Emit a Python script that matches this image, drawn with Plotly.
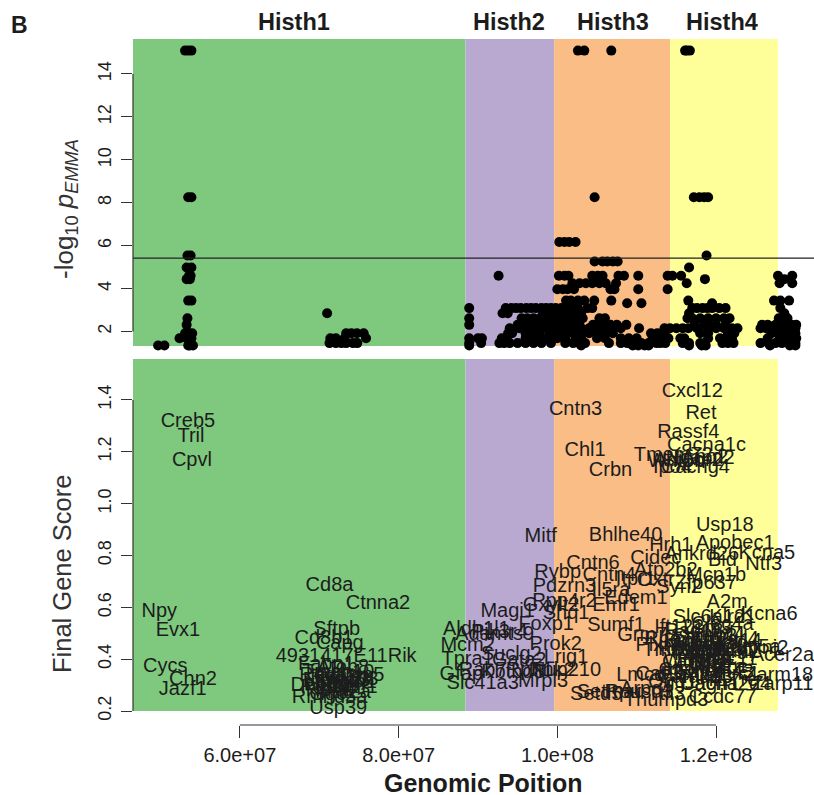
import plotly.graph_objects as go

W, H = 814, 795
FONT = "Liberation Sans"
INK = "#1c1c1c"

REGION_NAMES = ["Histh1", "Histh2", "Histh3", "Histh4"]
REGION_EDGES_MB = [46.54, 88.43, 99.6, 114.2, 127.8]
REGION_COLORS = ["#7FC97F", "#B9A9D1", "#F9BD85", "#FFFF99"]
REGION_LABEL_MB = [66.85, 93.9, 107.0, 120.8]

X_TICKS_MB = [60, 80, 100, 120]
X_TICK_LABELS = ["6.0e+07", "8.0e+07", "1.0e+08", "1.2e+08"]
X_RANGE_MB = [46.54, 132.34]
TOP_TICKS = [2, 4, 6, 8, 10, 12, 14]
TOP_RANGE = [1.325, 15.63]
BOTTOM_TICKS = [0.2, 0.4, 0.6, 0.8, 1.0, 1.2, 1.4]
BOTTOM_RANGE = [0.2, 1.558]
THRESHOLD = 5.42

ROW_VALUES = [15.09, 8.26, 6.17, 5.54, 5.26, 4.98, 4.6, 4.44, 4.25, 3.97, 3.44, 3.32, 3.09,
              2.85, 2.62, 2.31, 2.15, 1.92, 1.69, 1.46, 1.35]
ROW_MB = [
    [53.1, 53.5, 53.9, 102.6, 103.4, 106.8, 116.1, 116.3, 116.7],
    [53.5, 53.9, 104.7, 117.2, 117.9, 118.5, 119.0],
    [100.25, 100.9, 101.5, 102.3],
    [53.4, 53.8, 118.8],
    [104.7, 105.7, 106.3, 107.0, 107.6],
    [53.3, 53.9, 116.6],
    [53.6, 53.8, 92.6, 100.2, 100.9, 101.4, 104.4, 105.1, 105.7, 107.7, 108.4, 110.2, 113.9, 114.5, 115.6, 127.8, 129.6],
    [53.3, 53.7, 118.6, 128.6],
    [101.9, 102.8, 103.6, 104.4, 105.3, 106.1, 107.4, 116.3, 128.0, 129.6],
    [100.0, 100.7, 101.3, 102.1, 106.7, 107.2, 110.2, 113.9],
    [53.5, 53.9, 101.1, 101.7, 102.6, 103.4, 104.65, 106.8, 116.5, 127.3, 128.1, 129.2],
    [108.8, 110.6, 119.5],
    [88.9, 93.5, 94.2, 94.8, 95.4, 96.1, 96.7, 97.3, 98.0, 98.6, 99.2, 99.8, 100.5, 101.1, 101.9, 102.6,
     103.8, 104.4, 117.0, 117.6, 118.3, 118.9, 119.5, 120.4, 121.2, 128.1],
    [71.0, 93.1, 93.75, 98.2, 98.8, 99.5, 100.2, 100.9, 101.6, 102.4, 103.0, 116.6, 128.6],
    [53.4, 88.9, 95.5, 96.2, 97.0, 97.8, 98.5, 99.2, 100.0, 100.8, 101.5, 102.4, 103.2, 105.3, 106.0,
     116.4, 117.0, 118.0, 119.0, 120.0, 121.0, 121.7, 127.9, 129.0],
    [53.3, 88.9, 95.0, 95.8, 96.6, 97.5, 98.3, 99.0, 99.7, 100.5, 101.3, 102.0, 102.8, 104.5, 105.2, 106.0,
     106.7, 107.5, 108.7, 117.3, 118.5, 119.0, 120.0, 121.2, 125.8, 126.5, 127.5, 128.5, 129.5, 130.1],
    [94.0, 95.2, 96.0, 97.0, 98.0, 99.0, 100.0, 101.0, 102.0, 103.0, 104.0, 105.0, 106.0, 107.0, 108.0, 110.3,
     113.5, 114.2, 115.0, 115.8, 116.5, 117.6, 119.0, 120.0, 121.0, 122.0, 122.7, 125.6, 126.3, 127.5, 128.3, 129.0, 130.0],
    [53.1, 53.5, 53.6, 54.0, 73.4, 74.05, 74.75, 75.6, 93.8, 94.3, 96.0, 97.0, 97.8, 99.0, 99.7, 100.4, 101.0,
     102.0, 103.0, 104.0, 105.0, 106.0, 107.0, 111.8, 112.6, 113.5, 118.0, 119.0, 121.5, 122.3, 127.0, 128.0, 129.0, 130.0],
    [52.4, 53.3, 53.9, 71.4, 72.1, 73.2, 75.9, 88.9, 90.0, 90.5, 93.0, 93.6, 96.0, 97.0, 98.0, 99.0, 100.0, 101.0,
     102.3, 103.0, 105.0, 106.0, 108.0, 109.0, 110.0, 112.0, 113.0, 114.0, 115.5, 116.0, 119.0, 120.5, 121.2, 122.0,
     126.5, 128.0, 129.0, 130.1],
    [71.3, 72.1, 72.8, 73.4, 74.25, 74.8, 88.9, 90.4, 92.7, 93.3, 94.0, 95.0, 96.0, 97.0, 98.0, 99.2, 101.0, 102.0,
     102.8, 103.5, 106.5, 108.0, 108.8, 109.5, 110.2, 110.6, 111.5, 112.5, 113.0, 113.6, 115.8, 116.6, 118.0, 118.6,
     120.8, 121.5, 122.2, 125.6, 126.6, 127.5, 128.3, 129.2, 130.0],
    [49.7, 50.5, 53.5, 53.7, 54.1, 88.9, 103.0, 109.5, 110.2, 111.0, 111.5, 116.6, 118.2, 118.7, 126.8, 129.3, 130.0],
]

GENE_NAMES = [
    "Creb5", "Tril", "Cpvl", "Npy", "Evx1", "Cycs", "Chn2", "Jazf1", "Cd8a", "Ctnna2", "Sftpb", "Cd8b1", "Capg",
    "4931417E11Rik", "Fabp1", "Atoh8", "Tmsb10", "Reg1", "Reg3g", "Elmod3", "Lrrtm4", "Retsat", "Tgoln1", "Kcmf1",
    "Dnah6", "Mat2a", "Vamp5", "Rnf103", "Rpia", "Ggcx", "Rmnd5a", "Usp39",
    "Cntn3", "Chl1", "Crbn", "Mitf", "Bhlhe40", "Cxcl12", "Ret", "Rassf4", "Cacna1c", "Tmem72", "Ncapd2", "Adipor2",
    "Wnt5b", "Ano2", "Ipo4", "Cacng4", "Usp18", "Hrh1", "Apobec1", "Ankrd26", "Kcna5", "Cidec", "Ntf3", "Bid", "Cntn6",
    "Rybp", "Cntn4", "Atp2b2", "Mcp1b", "Itpr1", "Oxtr", "Zfp637", "Syn2", "Pdzrn3", "Il5ra", "Edem1", "Ppp4r2", "Emr1",
    "Magi1", "Gxylt2", "Shq1", "A2m", "Kcna6", "Slc6a12", "Klrd1", "Clec4a", "Foxp1", "Sumf1", "Ift122", "Aldh1l1",
    "Pik3r4", "Adamts9", "Grm7", "Mcm2", "Prok2", "Rho", "Plxnd1", "Tmcc1", "Mbd4", "Ruvbl1", "Sec61a1", "Suclg2",
    "Lrig1", "Tpra1", "Gata2", "Kdm5a", "Ninj2", "Acer2a", "Klrg1", "Wnk1", "Gfap", "Rab7", "Kbtbd8", "Rpn1", "Tnk2",
    "Nup210", "Slc41a3", "Mrpl3", "Lmcd1", "Setmar", "Setd5", "Cav3", "Ogg1", "Camk1", "Tada3", "Arpc4", "Ttll3",
    "Rpusd3", "Jagn1", "Il17rc", "Cacna2d4", "Erc1", "Fbxl14", "Zarm18", "Zarp11", "Ccdc77", "Bms1", "Thumpd3",
    "Rad18", "Srgap3", "Lhfpl4", "Mtmr14", "Brpf1", "Tmem40", "Vgll4", "Timp4", "Pparg", "Tsen2", "Mkrn2", "Raf1",
    "Cand2", "Hdac11", "Fbln2", "Wnt7a", "Chchd4", "Tmem43", "Xpc", "Lsm3",
]
GENE_MB = [
    53.46, 53.84, 53.96, 49.85, 52.2, 50.6, 54.1, 52.8, 71.3, 77.4, 72.2, 70.6, 72.6,
    73.4, 70.9, 73.0, 72.4, 70.5, 72.6, 72.2, 71.7, 71.3, 73.4, 73.8,
    70.1, 73.0, 74.3, 73.4, 70.9, 71.7, 71.3, 72.4,
    102.3, 103.5, 106.7, 97.9, 108.6, 117.0, 118.1, 116.5, 118.8, 114.6, 118.0, 116.5,
    115.0, 118.6, 114.5, 117.4, 121.1, 114.3, 122.4, 118.2, 126.4, 112.4, 126.0, 120.8, 104.5,
    100.05, 106.55, 113.67, 120.0, 109.9, 112.4, 118.7, 115.35, 100.9, 106.75, 109.9, 100.9, 107.4,
    93.75, 99.2, 101.1, 121.4, 126.7, 119.1, 122.1, 120.8, 98.6, 107.4, 115.35, 89.8,
    92.7, 92.1, 110.7, 88.7, 99.8, 113.25, 113.7, 114.5, 117.9, 116.6, 120.0, 94.2,
    101.1, 88.7, 95.2, 124.15, 126.25, 128.35, 119.5, 116.6, 87.9, 90.6, 94.4, 96.5, 99.4,
    101.1, 90.6, 98.2, 111.2, 106.5, 104.9, 112.8, 114.5, 116.6, 118.7, 111.2, 113.7,
    110.3, 119.5, 122.1, 121.2, 122.9, 117.0, 127.9, 128.35, 120.8, 118.3, 113.7,
    117.2, 118.6, 120.2, 121.5, 116.4, 119.0, 122.6, 118.0, 120.6, 117.6, 122.0, 119.4,
    116.9, 121.0, 118.4, 120.1, 117.1, 119.8, 121.8, 118.9,
]
GENE_SCORE = [
    1.319, 1.261, 1.168, 0.586, 0.512, 0.375, 0.323, 0.287, 0.686, 0.618, 0.519, 0.484, 0.464,
    0.412, 0.384, 0.371, 0.352, 0.339, 0.332, 0.32, 0.307, 0.294, 0.313, 0.294,
    0.3, 0.275, 0.339, 0.326, 0.281, 0.268, 0.255, 0.213,
    1.365, 1.207, 1.13, 0.875, 0.879, 1.435, 1.35, 1.276, 1.226, 1.19, 1.178, 1.17,
    1.165, 1.18, 1.143, 1.143, 0.918, 0.84, 0.848, 0.806, 0.81, 0.79, 0.77, 0.783, 0.771,
    0.738, 0.725, 0.744, 0.725, 0.712, 0.705, 0.695, 0.68, 0.682, 0.667, 0.639, 0.626, 0.609,
    0.587, 0.609, 0.579, 0.622, 0.577, 0.564, 0.564, 0.538, 0.538, 0.532, 0.525, 0.519,
    0.506, 0.497, 0.493, 0.455, 0.461, 0.48, 0.455, 0.435, 0.461, 0.442, 0.435, 0.42,
    0.41, 0.4, 0.396, 0.448, 0.446, 0.416, 0.403, 0.397, 0.345, 0.358, 0.352, 0.358, 0.358,
    0.358, 0.309, 0.317, 0.339, 0.275, 0.268, 0.345, 0.313, 0.332, 0.332, 0.287, 0.268,
    0.275, 0.307, 0.32, 0.307, 0.345, 0.345, 0.339, 0.307, 0.255, 0.194, 0.242,
    0.51, 0.49, 0.5, 0.47, 0.47, 0.45, 0.48, 0.43, 0.44, 0.42, 0.43, 0.41,
    0.39, 0.4, 0.38, 0.37, 0.36, 0.35, 0.37, 0.52,
]

fig = go.Figure()
gx, gy = [], []
for value, row in zip(ROW_VALUES, ROW_MB):
    gx.extend(row)
    gy.extend([value] * len(row))
fig.add_trace(go.Scatter(x=gx, y=gy, mode="markers", cliponaxis=False, xaxis="x", yaxis="y",
                         marker=dict(color="black", size=10, line=dict(width=0)), showlegend=False))
fig.add_trace(go.Scatter(x=GENE_MB, y=[s - 0.005 for s in GENE_SCORE], text=GENE_NAMES, mode="text", cliponaxis=False,
                         xaxis="x", yaxis="y2", textposition="middle center",
                         textfont=dict(family=FONT, size=20, color=INK), showlegend=False))

shapes = []
for i, color in enumerate(REGION_COLORS):
    for yref in ("y domain", "y2 domain"):
        shapes.append(dict(type="rect", xref="x", yref=yref, x0=REGION_EDGES_MB[i], x1=REGION_EDGES_MB[i + 1],
                           y0=0, y1=1, fillcolor=color, line=dict(width=0), layer="below"))
shapes.append(dict(type="line", xref="x domain", yref="y", x0=0, x1=1, y0=THRESHOLD, y1=THRESHOLD,
                   line=dict(color="#222", width=1.3)))
LEFT = 133 / W
shapes.append(dict(type="line", xref="paper", yref="y", x0=LEFT, x1=LEFT, y0=TOP_TICKS[0], y1=TOP_TICKS[-1],
                   line=dict(color="#333", width=1.2)))
shapes.append(dict(type="line", xref="paper", yref="y2", x0=LEFT, x1=LEFT, y0=BOTTOM_TICKS[0], y1=BOTTOM_TICKS[-1],
                   line=dict(color="#333", width=1.2)))
AXIS_Y = 1 - 725 / H
shapes.append(dict(type="line", xref="x", yref="paper", x0=X_TICKS_MB[0], x1=X_TICKS_MB[-1], y0=AXIS_Y, y1=AXIS_Y,
                   line=dict(color="#333", width=1.2)))

CENTER = dict(xanchor="center", yanchor="middle", showarrow=False)
annotations = [dict(text=name, x=mb, xref="x", y=1 - 22 / H, yref="paper",
                    font=dict(family=FONT, size=23.5, color=INK), **CENTER)
               for name, mb in zip([f"<b>{n}</b>" for n in REGION_NAMES], REGION_LABEL_MB)]
annotations += [
    dict(text="<b>B</b>", x=19 / W, y=1 - 25 / H, xref="paper", yref="paper",
         font=dict(family=FONT, size=23, color=INK), **CENTER),
    dict(text="-log<sub>10</sub> <i>p<sub>EMMA</sub></i>", x=66 / W, y=1 - 209 / H, xref="paper", yref="paper",
         textangle=-90, font=dict(family=FONT, size=26, color="#333"), **CENTER),
    dict(text="Final Gene Score", x=62 / W, y=1 - 574 / H, xref="paper", yref="paper",
         textangle=-90, font=dict(family=FONT, size=25.5, color="#333"), **CENTER),
    dict(text="<b>Genomic Poition</b>", x=483 / W, y=1 - 783 / H, xref="paper", yref="paper", height=24,
         font=dict(family=FONT, size=25, color=INK), **CENTER),
]

x_tick_font = dict(family=FONT, size=20, color=INK)
y_tick_font = dict(family=FONT, size=18, color=INK)
fig.update_layout(
    width=W, height=H, margin=dict(l=0, r=0, t=0, b=0, autoexpand=False), paper_bgcolor="white", plot_bgcolor="white",
    shapes=shapes, annotations=annotations, showlegend=False,
    xaxis=dict(domain=[LEFT, 1], range=X_RANGE_MB, anchor="free", position=AXIS_Y, tickmode="array",
               tickvals=X_TICKS_MB, ticktext=X_TICK_LABELS, ticks="outside", ticklen=12, tickwidth=1.2,
               tickcolor="#333", showgrid=False, zeroline=False, showline=False, tickfont=x_tick_font, tickangle=0),
    yaxis=dict(domain=[1 - 346 / H, 1 - 39 / H], range=TOP_RANGE, anchor="x", tickmode="array", tickvals=TOP_TICKS,
               ticktext=[str(t) for t in TOP_TICKS], ticks="outside", ticklen=11, tickwidth=1.2, tickcolor="#333",
               tickangle=-90, ticklabelstandoff=3, showgrid=False, zeroline=False, showline=False, tickfont=y_tick_font),
    yaxis2=dict(domain=[1 - 711 / H, 1 - 359 / H], range=BOTTOM_RANGE, anchor="x", tickmode="array",
                tickvals=BOTTOM_TICKS, ticktext=[f"{t:.1f}" for t in BOTTOM_TICKS], ticks="outside", ticklen=11,
                tickwidth=1.2, tickcolor="#333", tickangle=-90, ticklabelstandoff=3, showgrid=False, zeroline=False,
                showline=False, tickfont=y_tick_font),
)
fig.write_html("out.html", config={"displayModeBar": False},
               post_script="document.body.style.margin='0';document.documentElement.style.overflow='hidden';")
